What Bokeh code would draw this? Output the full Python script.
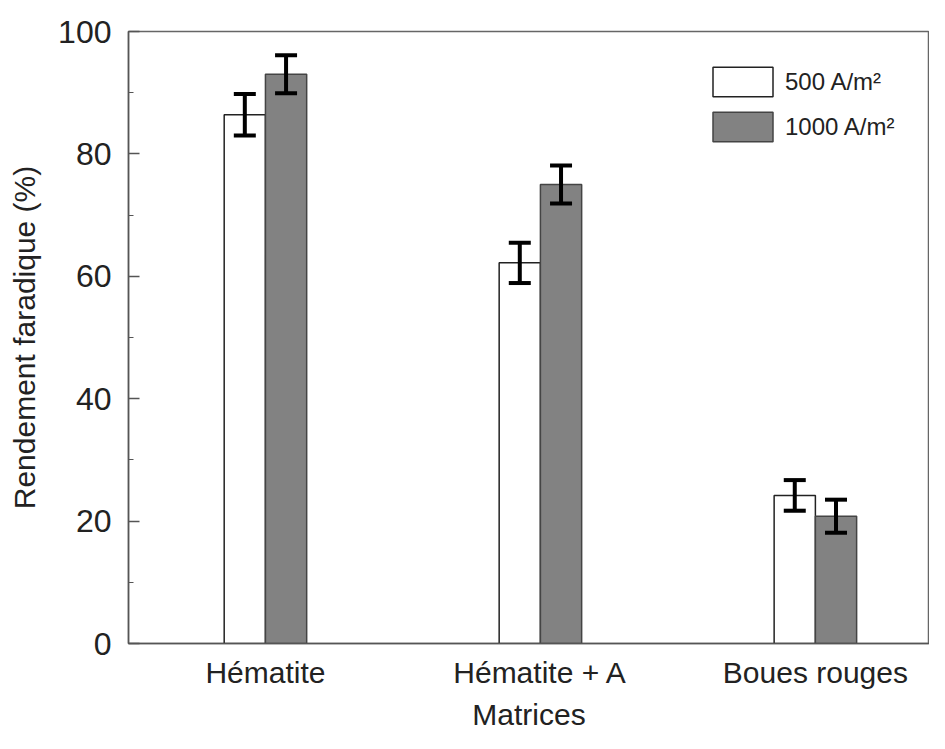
import numpy as np
from bokeh.plotting import figure
from bokeh.models import (ColumnDataSource, Whisker, TeeHead, Legend, LegendItem,
                          SingleIntervalTicker, FixedTicker, Range1d)
from bokeh.embed import file_html
from bokeh.resources import INLINE

# ---- data ----
categories = ["Hématite", "Hématite + A", "Boues rouges"]
series_names = ["500 A/m²", "1000 A/m²"]
vals_500 = [86.4, 62.2, 24.2]
err_500 = [3.4, 3.3, 2.5]
vals_1000 = [93.0, 75.0, 20.8]
err_1000 = [3.1, 3.1, 2.7]

FONT = "Liberation Sans"
TXT = "#222222"

groups = np.arange(1, len(categories) + 1)
bw = 0.15
src500 = ColumnDataSource(dict(x=groups - bw / 2, top=vals_500,
                               upper=np.array(vals_500) + np.array(err_500),
                               lower=np.array(vals_500) - np.array(err_500)))
src1000 = ColumnDataSource(dict(x=groups + bw / 2, top=vals_1000,
                                upper=np.array(vals_1000) + np.array(err_1000),
                                lower=np.array(vals_1000) - np.array(err_1000)))

p = figure(width=929, height=733, output_backend="svg", toolbar_location=None,
           x_range=Range1d(0.502, 3.415), y_range=Range1d(0, 100),
           min_border_left=128, min_border_right=0, min_border_top=31, min_border_bottom=86)
p.xgrid.visible = False
p.ygrid.visible = False
p.outline_line_color = "#666666"
p.outline_line_width = 1.5
p.background_fill_color = "white"
p.border_fill_color = "white"

r500 = p.vbar(x="x", top="top", width=bw, source=src500, fill_color="white",
              line_color="#222222", line_width=1.5)
r1000 = p.vbar(x="x", top="top", width=bw, source=src1000, fill_color="#828282",
               line_color="#444444", line_width=1.5)

for s in (src500, src1000):
    w = Whisker(base="x", upper="upper", lower="lower", source=s,
                line_color="black", line_width=4, level="overlay",
                upper_head=TeeHead(size=22, line_width=4, line_color="black"),
                lower_head=TeeHead(size=22, line_width=4, line_color="black"))
    p.add_layout(w)

# y axis
yax = p.yaxis[0]
yax.ticker = SingleIntervalTicker(interval=20, num_minor_ticks=2)
yax.axis_label = "Rendement faradique (%)"
yax.axis_label_text_font = FONT
yax.axis_label_text_font_size = "30px"
yax.axis_label_text_font_style = "normal"
yax.axis_label_text_color = TXT
yax.axis_label_standoff = 14
yax.major_label_text_font = FONT
yax.major_label_text_font_size = "32px"
yax.major_label_text_color = TXT
yax.major_label_standoff = 17
yax.major_tick_in = 11
yax.major_tick_out = 0
yax.minor_tick_in = 5
yax.minor_tick_out = 0
yax.axis_line_color = "#555555"
yax.axis_line_width = 1.5
yax.major_tick_line_color = "#555555"
yax.major_tick_line_width = 1.5
yax.minor_tick_line_color = "#555555"

# x axis
xax = p.xaxis[0]
xax.ticker = FixedTicker(ticks=list(groups))
xax.major_label_overrides = {int(g): c for g, c in zip(groups, categories)}
xax.minor_tick_line_color = None
xax.major_tick_in = 0
xax.major_tick_out = 0
xax.major_label_text_font = FONT
xax.major_label_text_font_size = "30px"
xax.major_label_text_color = TXT
xax.major_label_standoff = 12
xax.axis_label = "Matrices"
xax.axis_label_text_font = FONT
xax.axis_label_text_font_size = "30px"
xax.axis_label_text_font_style = "normal"
xax.axis_label_text_color = TXT
xax.axis_label_standoff = 6
xax.axis_line_color = "#555555"
xax.axis_line_width = 1.5

legend = Legend(items=[LegendItem(label=series_names[0], renderers=[r500]),
                       LegendItem(label=series_names[1], renderers=[r1000])],
                location=(577, 498), glyph_width=75, glyph_height=37,
                label_height=30, spacing=8, padding=0, margin=0,
                label_standoff=5, label_text_font=FONT, label_text_font_size="24px",
                label_text_color=TXT, border_line_color=None, background_fill_alpha=0)
p.add_layout(legend)

open("out.html", "w").write(file_html(p, INLINE))
